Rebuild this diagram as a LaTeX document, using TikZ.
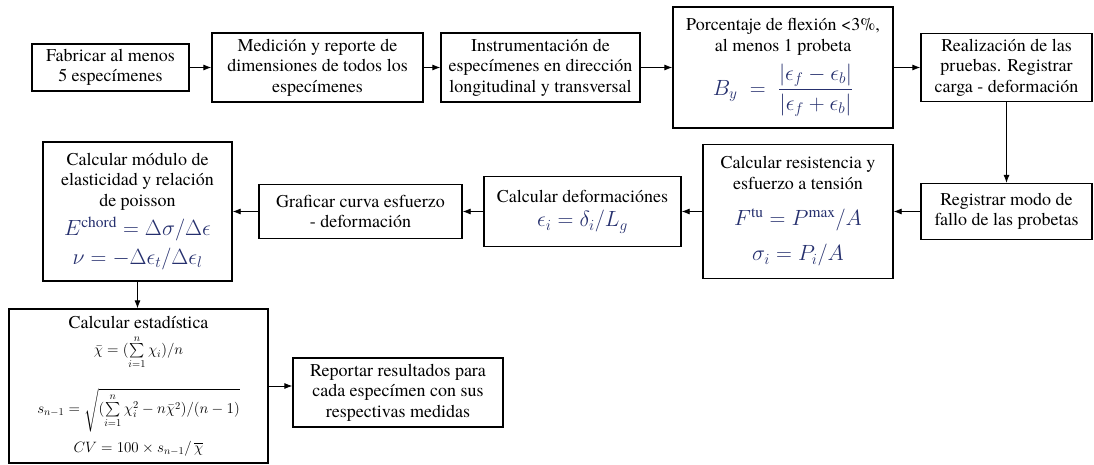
\RequirePackage{fix-cm}
\documentclass[tikz,border=0pt]{standalone}
\usepackage{amsmath}
\usepackage{fontspec}
\setmainfont{TeX Gyre Termes}
\usepackage{tikz}
\usetikzlibrary{arrows.meta}

\definecolor{mathblue}{RGB}{38,48,110}
\newcommand{\fml}[1]{{\fontsize{22}{26}\selectfont\color{mathblue}$#1$}}
\newcommand{\stat}[1]{{\fontsize{15}{17}\selectfont$#1$}}

\begin{document}
\begin{tikzpicture}[x = 1pt, y = -1pt,
	box/.style = {draw, line width = 1.3pt, inner sep = 0pt, align = center, font = \rmfamily\fontsize{18}{20.5}\selectfont},
	flow/.style = {-{Latex[length = 8pt, width = 6pt]}, line width = 0.8pt}]
	
		\useasboundingbox (0, 0) rectangle (1094, 465);
		
		\node[box, minimum width = 157pt, minimum height = 47pt] (fabricar) at (110.5, 67.5) {Fabricar al menos\\ 5 especímenes};
		\node[box, minimum width = 211pt, minimum height = 69pt] (medicion) at (317.5, 67.5) {Medición y reporte de\\ dimensiones de todos los\\ especímenes};
		\node[box, minimum width = 199pt, minimum height = 69pt] (instrum) at (540.5, 67.5) {Instrumentación de\\ especímenes en dirección\\ longitudinal y transversal};
		\node[box, minimum width = 220pt, minimum height = 121pt] (flexion) at (783, 67.5) {Porcentaje de flexión <3\%,\\ al menos 1 probeta\\[8pt]
			\fml{B_y \;=\; \dfrac{|\epsilon_f - \epsilon_b|}{|\epsilon_f + \epsilon_b|}}};
		\node[box, minimum width = 171pt, minimum height = 68pt] (pruebas) at (1006.5, 67.5) {Realización de las\\ pruebas. Registrar\\ carga - deformación};
		
		\node[box, minimum width = 171pt, minimum height = 56pt] (fallo) at (1006.5, 211.5) {Registrar modo de\\ fallo de las probetas};
		\node[box, minimum width = 190pt, minimum height = 134pt] (resist) at (798, 211.5) {Calcular resistencia y\\ esfuerzo a tensión\\[16pt]
			\fml{F^{\mathrm{tu}} = P^{\max}/A}\\[12pt] \fml{\sigma_i = P_i/A}};
		\node[box, minimum width = 197pt, minimum height = 70pt] (deform) at (582.5, 211.5) {Calcular deformaciónes\\[4pt] \fml{\epsilon_i = \delta_i/L_g}};
		\node[box, minimum width = 203pt, minimum height = 54pt] (grafica) at (360.5, 211.5) {Graficar curva esfuerzo\\ - deformación};
		\node[box, minimum width = 189pt, minimum height = 139pt] (modulo) at (137.5, 211.5) {Calcular módulo de\\ elasticidad y relación\\ de poisson\\[6pt]
			\fml{E^{\mathrm{chord}} = \Delta\sigma/\Delta\epsilon}\\[6pt] \fml{\nu = -\Delta\epsilon_t/\Delta\epsilon_l}};
		
		\node[box, minimum width = 259pt, minimum height = 154pt] (estad) at (138.5, 386) {Calcular estadística\\[6pt]
			\stat{\bar{\chi} = (\sum\limits_{i=1}^{n} \chi_i)/n}\\[18pt]
			\stat{s_{n-1} = \sqrt{(\sum\limits_{i=1}^{n} \chi_i^2 - n\bar{\chi}^2)/(n-1)}}\\[8pt]
			\stat{CV = 100 \times s_{n-1}/\,\overline{\chi}}};
		\node[box, minimum width = 210pt, minimum height = 69pt] (reporte) at (398, 392.5) {Reportar resultados para\\ cada especímen con sus\\ respectivas medidas};
		
		\draw[flow] (fabricar) -- (medicion);
		\draw[flow] (medicion) -- (instrum);
		\draw[flow] (instrum) -- (flexion);
		\draw[flow] (flexion) -- (pruebas);
		\draw[flow] (pruebas) -- (fallo);
		\draw[flow] (fallo) -- (resist);
		\draw[flow] (resist) -- (deform);
		\draw[flow] (deform) -- (grafica);
		\draw[flow] (grafica) -- (modulo);
		\draw[flow] (modulo.south) -- (modulo.south |- estad.north);
		\draw[flow] (estad.east) -- (estad.east -| reporte.west);
	
	\end{tikzpicture}
\end{document}
